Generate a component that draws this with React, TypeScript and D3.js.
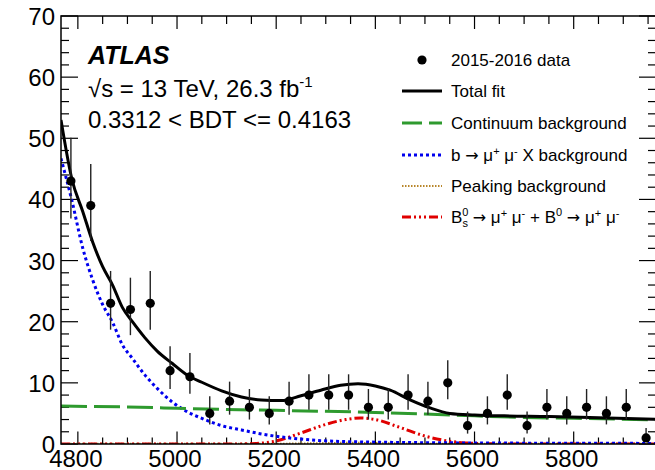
import React from "react";
import * as d3 from "d3";

// data: 40 MeV bins
const binCenters = [4786, 4826, 4866, 4906, 4946, 4986, 5026, 5066, 5106, 5146, 5186, 5226, 5266, 5306, 5346, 5386, 5426, 5466, 5506, 5546, 5586, 5626, 5666, 5706, 5746, 5786, 5826, 5866, 5906, 5946];
const counts = [43, 39, 23, 22, 23, 12, 11, 5, 7, 6, 5, 7, 8, 8, 8, 6, 6, 8, 7, 10, 3, 5, 8, 3, 6, 5, 6, 5, 6, 1];
const errHigh = [50.1, 45.8, 28.3, 27.2, 28.3, 16.0, 14.9, 7.8, 10.2, 9.0, 7.8, 10.2, 11.4, 11.4, 11.4, 9.0, 9.0, 11.4, 10.2, 13.7, 5.3, 7.8, 11.4, 5.3, 9.0, 7.8, 9.0, 7.8, 9.0, 2.6];
const errLow = [36.9, 33.2, 18.7, 17.8, 18.7, 9.0, 8.2, 3.2, 4.8, 4.0, 3.2, 4.8, 5.6, 5.6, 5.6, 4.0, 4.0, 5.6, 4.8, 7.3, 1.7, 3.2, 5.6, 1.7, 4.0, 3.2, 4.0, 3.2, 4.0, 0.4];

// fit curves
const fitMass = [4766, 4788, 4810, 4830, 4850, 4870, 4890, 4910, 4935, 4960, 4990, 5020, 5050, 5090, 5130, 5170, 5210, 5250, 5290, 5330, 5365, 5400, 5430, 5470, 5510, 5550, 5600, 5660, 5750, 5850, 5966];
const totalFit = [53.0, 43.3, 38.0, 33.0, 29.0, 26.0, 22.3, 20.0, 17.4, 15.2, 13.2, 11.3, 10.1, 8.7, 7.7, 7.2, 7.1, 7.9, 8.8, 9.6, 9.85, 9.5, 8.8, 7.2, 5.9, 5.0, 4.75, 4.6, 4.5, 4.3, 4.05];
const bmumuX = [46.7, 39.8, 32.0, 26.8, 22.8, 19.9, 16.2, 14.0, 11.3, 9.1, 6.9, 5.3, 4.2, 3.0, 2.3, 1.65, 1.15, 0.8, 0.55, 0.42, 0.35, 0.3, 0.27, 0.24, 0.21, 0.19, 0.17, 0.15, 0.13, 0.11, 0.1];

const contMass = [4766, 4900, 5000, 5100, 5200, 5300, 5400, 5500, 5600, 5700, 5800, 5966];
const continuum = [6.2, 6.05, 5.85, 5.65, 5.5, 5.35, 5.15, 4.9, 4.6, 4.35, 4.2, 3.95];

const peakMass = [4766, 5200, 5300, 5350, 5400, 5500, 5966];
const peaking = [0.02, 0.05, 0.15, 0.2, 0.15, 0.05, 0.02];

const sigMass = [4766, 5100, 5150, 5200, 5250, 5300, 5340, 5370, 5400, 5450, 5500, 5550, 5600, 5650, 5700, 5966];
const signal = [0, 0, 0.05, 0.5, 1.8, 3.2, 4.0, 4.25, 4.0, 2.7, 1.3, 0.45, 0.1, 0.02, 0, 0];

const xMajor = [4800, 5000, 5200, 5400, 5600, 5800];
const yMajor = [0, 10, 20, 30, 40, 50, 60, 70];

const W = 655;
const H = 470;
const left = 61, right = 656, top = 16, bottom = 444;
const font = "'Liberation Sans', Arial, Helvetica, sans-serif";
const arrowFont = "'DejaVu Sans', sans-serif";

const x = d3.scaleLinear().domain([4766, 5966]).range([left, right]);
const y = d3.scaleLinear().domain([0, 70]).range([bottom, top]);

const mkLine = (xs: number[], ys: number[]) =>
  d3
    .line<number>()
    .x((_, i) => x(xs[i]))
    .y((d) => y(d))
    .curve(d3.curveMonotoneX)(ys) || "";

const styles = {
  total: { stroke: "#000", strokeWidth: 3, dash: undefined as string | undefined },
  cont: { stroke: "#2e9a2e", strokeWidth: 3, dash: "26,7" },
  bmumu: { stroke: "#0000ee", strokeWidth: 3, dash: "3,3" },
  peak: { stroke: "#b8862a", strokeWidth: 2, dash: "1.5,1.5" },
  sig: { stroke: "#e00000", strokeWidth: 3, dash: "9,3,2,3,2,3,2,3" },
};

const Arrow = () => (
  <tspan fontFamily={arrowFont} fontSize={16}>→</tspan>
);

export default function App() {
  const xMinor = d3.range(4800, 5966, 50);
  const yMinor = d3.range(0, 71, 2);
  const legendY = [60, 91, 123, 155, 186, 217];
  const lx0 = 402, lx1 = 442, tx = 451;
  const sup = 11;

  return (
    <svg width={W} height={H} style={{ position: "absolute", left: 0, top: 0, background: "#fff" }} fontFamily={font}>
      <defs>
        <clipPath id="plot">
          <rect x={left} y={top} width={right - left} height={bottom - top} />
        </clipPath>
      </defs>
      <rect x={0} y={0} width={W} height={H} fill="#fff" />

      {/* ticks */}
      <g stroke="#000" strokeWidth={1.2}>
        {xMinor.map((v) => {
          const maj = v % 200 === 0;
          return (
            <g key={"xt" + v}>
              <line x1={x(v)} x2={x(v)} y1={bottom} y2={bottom - (maj ? 12.5 : 6.5)} />
              <line x1={x(v)} x2={x(v)} y1={top} y2={top + (maj ? 13 : 8)} />
            </g>
          );
        })}
        {yMinor.map((v) => {
          const maj = v % 10 === 0;
          return (
            <g key={"yt" + v}>
              <line x1={left} x2={left + (maj ? 17 : 8)} y1={y(v)} y2={y(v)} />
              <line x1={right} x2={right - (maj ? 17 : 8)} y1={y(v)} y2={y(v)} />
            </g>
          );
        })}
      </g>

      {/* curves */}
      <g clipPath="url(#plot)" fill="none">
        <path d={mkLine(peakMass, peaking)} stroke={styles.peak.stroke} strokeWidth={styles.peak.strokeWidth} strokeDasharray={styles.peak.dash} />
        <path d={mkLine(sigMass, signal)} stroke={styles.sig.stroke} strokeWidth={styles.sig.strokeWidth} strokeDasharray={styles.sig.dash} />
        <path d={mkLine(fitMass, bmumuX)} stroke={styles.bmumu.stroke} strokeWidth={styles.bmumu.strokeWidth} strokeDasharray={styles.bmumu.dash} />
        <path d={mkLine(contMass, continuum)} stroke={styles.cont.stroke} strokeWidth={styles.cont.strokeWidth} strokeDasharray={styles.cont.dash} />
        <path d={mkLine(fitMass, totalFit)} stroke={styles.total.stroke} strokeWidth={styles.total.strokeWidth} />
      </g>

      {/* data */}
      <g clipPath="url(#plot)">
        {binCenters.map((m, i) => (
          <g key={"d" + m}>
            <line x1={x(m)} x2={x(m)} y1={y(errLow[i])} y2={y(errHigh[i])} stroke="#222" strokeWidth={1.4} />
            <circle cx={x(m)} cy={y(counts[i])} r={4.6} fill="#000" />
          </g>
        ))}
      </g>

      {/* frame */}
      <rect x={left} y={top} width={right - left} height={bottom - top} fill="none" stroke="#000" strokeWidth={1.5} />

      {/* axis labels */}
      <g fontSize={24} fill="#000">
        {xMajor.map((v) => (
          <text key={"xl" + v} x={x(v) - 2} y={467} textAnchor="middle">
            {v}
          </text>
        ))}
        {yMajor.map((v) => (
          <text key={"yl" + v} x={55} y={y(v) + 9} textAnchor="end">
            {v}
          </text>
        ))}
      </g>

      {/* ATLAS label */}
      <text x={88} y={64} fontSize={25} fontWeight="bold" fontStyle="italic">ATLAS</text>
      <text x={88} y={97} fontSize={24}>
        √s = 13 TeV, 26.3 fb<tspan dy={-10} fontSize={15}>-1</tspan>
      </text>
      <text x={88} y={128} fontSize={24}>0.3312 &lt; BDT &lt;= 0.4163</text>

      {/* legend */}
      <g fontSize={17}>
        <circle cx={422} cy={legendY[0]} r={4.6} fill="#000" />
        <text x={tx} y={legendY[0] + 6}>2015-2016 data</text>

        <line x1={lx0} x2={lx1} y1={legendY[1]} y2={legendY[1]} stroke={styles.total.stroke} strokeWidth={3} />
        <text x={tx} y={legendY[1] + 6}>Total fit</text>

        <line x1={lx0} x2={lx1} y1={legendY[2]} y2={legendY[2]} stroke={styles.cont.stroke} strokeWidth={3} strokeDasharray="20,7" />
        <text x={tx} y={legendY[2] + 6}>Continuum background</text>

        <line x1={lx0} x2={lx1} y1={legendY[3]} y2={legendY[3]} stroke={styles.bmumu.stroke} strokeWidth={3} strokeDasharray={styles.bmumu.dash} />
        <text x={tx} y={legendY[3] + 6}>
          b <Arrow /> μ<tspan dy={-6} fontSize={sup}>+</tspan>
          <tspan dy={6}> μ</tspan>
          <tspan dy={-6} fontSize={sup}>-</tspan>
          <tspan dy={6}> X background</tspan>
        </text>

        <line x1={lx0} x2={lx1} y1={legendY[4]} y2={legendY[4]} stroke={styles.peak.stroke} strokeWidth={2} strokeDasharray={styles.peak.dash} />
        <text x={tx} y={legendY[4] + 6}>Peaking background</text>

        <line x1={lx0} x2={lx1} y1={legendY[5]} y2={legendY[5]} stroke={styles.sig.stroke} strokeWidth={3} strokeDasharray="9,3,2,3,2,3,2,3" />
        <text x={tx} y={legendY[5] + 6}>
          B<tspan dy={-7} fontSize={sup}>0</tspan>
          <tspan dx={-6} dy={11} fontSize={sup}>s</tspan>
          <tspan dy={-4}> </tspan>
          <Arrow />
          <tspan> μ</tspan>
          <tspan dy={-6} fontSize={sup}>+</tspan>
          <tspan dy={6}> μ</tspan>
          <tspan dy={-6} fontSize={sup}>-</tspan>
          <tspan dy={6}> + B</tspan>
          <tspan dy={-7} fontSize={sup}>0</tspan>
          <tspan dy={7}> </tspan>
          <Arrow />
          <tspan> μ</tspan>
          <tspan dy={-6} fontSize={sup}>+</tspan>
          <tspan dy={6}> μ</tspan>
          <tspan dy={-6} fontSize={sup}>-</tspan>
        </text>
      </g>
    </svg>
  );
}
